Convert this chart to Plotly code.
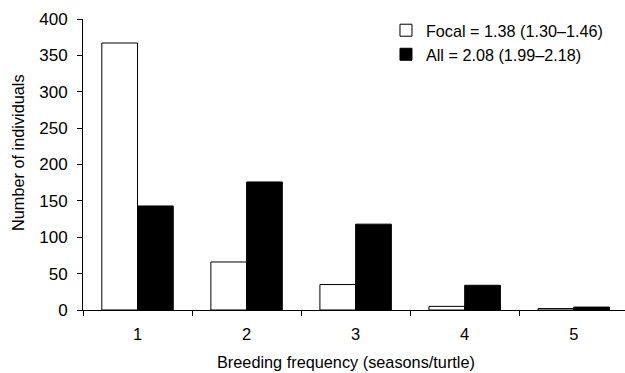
import plotly.graph_objects as go

categories = ["1", "2", "3", "4", "5"]
focal = [367, 66, 35, 5, 2]
all_vals = [143, 176, 118, 34, 4]
focal_label = "Focal = 1.38 (1.30\u20131.46)"
all_label = "All = 2.08 (1.99\u20132.18)"
y_ticks = [0, 50, 100, 150, 200, 250, 300, 350, 400]

FONT = "Arial, Liberation Sans, sans-serif"

fig = go.Figure()
fig.add_trace(go.Bar(x=categories, y=focal, name=focal_label,
                     marker=dict(color="white", line=dict(color="black", width=1))))
fig.add_trace(go.Bar(x=categories, y=all_vals, name=all_label,
                     marker=dict(color="black", line=dict(color="black", width=1))))

fig.update_layout(
    width=625, height=373,
    margin=dict(l=83, r=0, t=19, b=63),
    paper_bgcolor="white", plot_bgcolor="white",
    barmode="group", bargap=0.345, bargroupgap=0,
    font=dict(family=FONT, size=16, color="black"),
    showlegend=True,
    legend=dict(x=0.559, y=1.02, xanchor="left", yanchor="top",
                font=dict(size=16.2), bgcolor="rgba(0,0,0,0)",
                itemwidth=30, tracegroupgap=0),
    xaxis=dict(type="category", range=[-0.5, 4.47],
               showline=True, linecolor="black", linewidth=1,
               ticks="outside", ticklen=5, tickcolor="black", tickson="boundaries",
               showgrid=False, zeroline=False, tickfont=dict(size=16.5),
               ticklabelstandoff=9),
    yaxis=dict(range=[0, 400], tickvals=y_ticks,
               showline=True, linecolor="black", linewidth=1,
               ticks="outside", ticklen=5, tickcolor="black",
               showgrid=False, zeroline=False, tickfont=dict(size=17),
               ticklabelstandoff=6),
    annotations=[
        dict(text="Breeding frequency (seasons/turtle)", xref="paper", yref="paper",
             x=(346 - 83) / (625 - 83), y=-(362 - 310) / (310 - 19), xanchor="center",
             yanchor="middle", showarrow=False, font=dict(size=16.3)),
        dict(text="Number of individuals", xref="paper", yref="paper",
             x=-(83 - 18) / (625 - 83), y=(310 - 153) / (310 - 19), xanchor="center",
             yanchor="middle", textangle=-90, showarrow=False, font=dict(size=16.3)),
    ],
)

fig.write_html("out.html")
